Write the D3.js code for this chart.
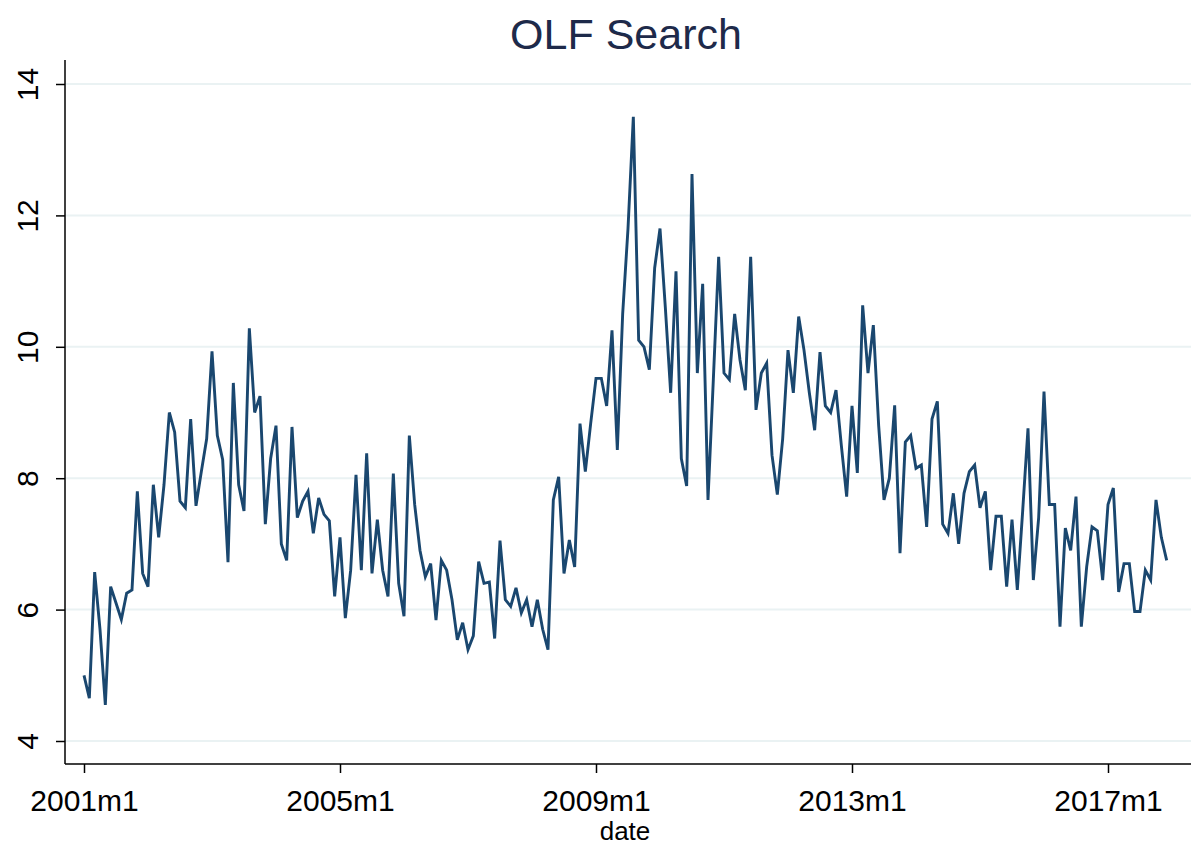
<!DOCTYPE html>
<html>
<head>
<meta charset="utf-8">
<script src="https://cdn.jsdelivr.net/npm/d3@7/dist/d3.min.js"></script>
<style>
  html, body { margin: 0; padding: 0; background: #ffffff; }
  svg { display: block; }
  text { font-family: "Liberation Sans", Arial, sans-serif; }
</style>
</head>
<body>
<svg id="chart" width="1191" height="848"></svg>
<script>
// Monthly data, 2001m1 .. 2017m12
const startYear = 2001;
const olfSearch = [
  5.0, 4.65, 6.57, 5.7, 4.55, 6.35, 6.1, 5.85, 6.25, 6.3, 7.8, 6.55,
  6.35, 7.9, 7.1, 7.9, 9.0, 8.7, 7.65, 7.55, 8.9, 7.58, 8.1, 8.6,
  9.93, 8.65, 8.28, 6.72, 9.45, 7.9, 7.5, 10.28, 9.0, 9.25, 7.3, 8.3,
  8.8, 7.0, 6.75, 8.78, 7.4, 7.65, 7.8, 7.16, 7.7, 7.45, 7.35, 6.2,
  7.1, 5.87, 6.6, 8.05, 6.6, 8.38, 6.55, 7.37, 6.6, 6.2, 8.07, 6.4,
  5.9, 8.65, 7.6, 6.9, 6.5, 6.7, 5.84, 6.75, 6.6, 6.15, 5.54, 5.8,
  5.39, 5.6, 6.73, 6.4, 6.42, 5.56, 7.05, 6.15, 6.05, 6.33, 5.95, 6.15,
  5.74, 6.15, 5.7, 5.39, 7.67, 8.02, 6.55, 7.06, 6.65, 8.83, 8.1, 8.83,
  9.52, 9.52, 9.1, 10.25, 8.43, 10.5, 11.8, 13.5, 10.1, 10.0, 9.65, 11.2,
  11.8, 10.6, 9.3, 11.15, 8.3, 7.88, 12.63, 9.6, 10.96, 7.67, 9.5, 11.37,
  9.6, 9.5, 10.5, 9.8, 9.34, 11.37, 9.04, 9.6, 9.75, 8.35, 7.75, 8.6,
  9.95, 9.3, 10.46, 9.95, 9.3, 8.73, 9.92, 9.1, 9.0, 9.34, 8.5, 7.72,
  9.1, 8.08, 10.63, 9.6, 10.33, 8.8, 7.67, 8.0, 9.11, 6.86, 8.55, 8.65,
  8.15, 8.2, 7.26, 8.9, 9.17, 7.3, 7.16, 7.77, 7.0, 7.77, 8.1, 8.2,
  7.55, 7.8, 6.6, 7.42, 7.42, 6.35, 7.37, 6.3, 7.5, 8.76, 6.45, 7.4,
  9.32, 7.6, 7.6, 5.74, 7.24, 6.9, 7.72, 5.74, 6.65, 7.26, 7.2, 6.45,
  7.6, 7.85, 6.27, 6.7, 6.7, 5.97, 5.97, 6.6, 6.45, 7.67, 7.1, 6.75
];
const xTickMonths = [0, 48, 96, 144, 192];
const xTickLabels = ["2001m1", "2005m1", "2009m1", "2013m1", "2017m1"];
const yTicks = [4, 6, 8, 10, 12, 14];
const titleText = "OLF Search";
const xTitleText = "date";

const svg = d3.select("#chart");

const x = d3.scaleLinear().domain([0, 192]).range([84, 1108]);
const y = d3.scaleLinear().domain([4, 14]).range([741, 84]);

const axisLeftX = 65;
const axisBottomY = 764;
const plotRight = 1191;

// gridlines
svg.append("g").selectAll("line").data(yTicks).join("line")
  .attr("x1", axisLeftX).attr("x2", plotRight)
  .attr("y1", d => y(d)).attr("y2", d => y(d))
  .attr("stroke", "#eaf2f3").attr("stroke-width", 2);

// line
const line = d3.line().x((d, i) => x(i)).y(d => y(d));
svg.append("path").datum(olfSearch)
  .attr("d", line)
  .attr("fill", "none")
  .attr("stroke", "#1a476f")
  .attr("stroke-width", 2.9)
  .attr("stroke-linejoin", "miter")
  .attr("stroke-miterlimit", 4);

// y axis
const yAxis = d3.axisLeft(y).tickValues(yTicks).tickSize(9).tickPadding(0).tickFormat(d3.format("d"));
const gy = svg.append("g").attr("transform", `translate(${axisLeftX},0)`).call(yAxis);
gy.select(".domain").attr("d", `M0,60V${axisBottomY}`).attr("stroke", "#000").attr("stroke-width", 1.5);
gy.selectAll(".tick line").attr("stroke", "#000").attr("stroke-width", 1.5);
gy.selectAll(".tick text")
  .attr("x", 0).attr("dy", null)
  .attr("transform", "translate(-27,0) rotate(-90)")
  .attr("text-anchor", "middle")
  .attr("dominant-baseline", "alphabetic")
  .attr("y", 0)
  .attr("font-size", 30)
  .attr("fill", "#000");

// x axis
const xAxis = d3.axisBottom(x).tickValues(xTickMonths).tickSize(9).tickPadding(4)
  .tickFormat((d, i) => xTickLabels[i]);
const gx = svg.append("g").attr("transform", `translate(0,${axisBottomY})`).call(xAxis);
gx.select(".domain").attr("d", `M${axisLeftX},0H${plotRight}`).attr("stroke", "#000").attr("stroke-width", 1.5);
gx.selectAll(".tick line").attr("stroke", "#000").attr("stroke-width", 1.5);
gx.selectAll(".tick text")
  .attr("dy", null).attr("y", 47)
  .attr("font-size", 30)
  .attr("fill", "#000");

// axis title
svg.append("text")
  .attr("x", 625).attr("y", 840)
  .attr("text-anchor", "middle")
  .attr("font-size", 26)
  .attr("fill", "#000")
  .text(xTitleText);

// chart title
svg.append("text")
  .attr("x", 626).attr("y", 49)
  .attr("text-anchor", "middle")
  .attr("font-size", 43)
  .attr("fill", "#1e2a4a")
  .text(titleText);
</script>
</body>
</html>
